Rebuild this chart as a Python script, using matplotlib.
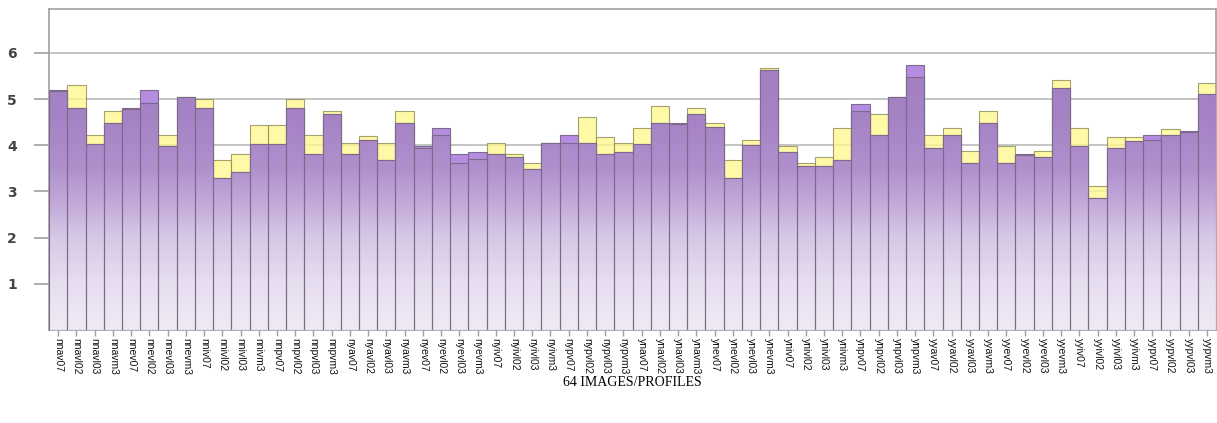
import numpy as np
import matplotlib.pyplot as plt
from matplotlib.colors import LinearSegmentedColormap
from matplotlib.path import Path

# 64 profiles: [nn, ny, yn, yy] x [av, ev, iv, pv] x [07, l02, l03, m3]
labels = [a + b + c for a in ['nn', 'ny', 'yn', 'yy']
          for b in ['av', 'ev', 'iv', 'pv']
          for c in ['07', 'l02', 'l03', 'm3']]

purple = [5.19, 4.80, 4.03, 4.48, 4.81, 5.19, 3.99, 5.05,
          4.80, 3.30, 3.42, 4.03, 4.03, 4.80, 3.80, 4.68,
          3.80, 4.11, 3.69, 4.48, 3.98, 4.37, 3.82, 3.85,
          3.80, 3.74, 3.49, 4.05, 4.23, 4.05, 3.80, 3.85,
          4.03, 4.48, 4.48, 4.68, 4.39, 3.29, 4.00, 5.62,
          3.85, 3.54, 3.54, 3.69, 4.90, 4.23, 5.05, 5.73,
          3.93, 4.23, 3.62, 4.48, 3.62, 3.80, 3.74, 5.24,
          3.99, 2.86, 3.93, 4.10, 4.23, 4.23, 4.30, 5.10]

yellow = [5.17, 5.30, 4.23, 4.74, 4.79, 4.91, 4.23, 5.04,
          4.99, 3.69, 3.80, 4.43, 4.43, 4.99, 4.23, 4.75,
          4.05, 4.19, 4.05, 4.75, 3.94, 4.22, 3.62, 3.70,
          4.05, 3.80, 3.62, 4.04, 4.05, 4.61, 4.18, 4.05,
          4.37, 4.86, 4.47, 4.80, 4.48, 3.69, 4.11, 5.68,
          3.99, 3.62, 3.74, 4.37, 4.74, 4.68, 5.04, 5.48,
          4.23, 4.37, 3.87, 4.75, 3.99, 3.79, 3.87, 5.42,
          4.37, 3.12, 4.17, 4.17, 4.11, 4.36, 4.29, 5.35]

fig = plt.figure(figsize=(12.17, 4.23), dpi=100)
ax = fig.add_axes([0.0403, 0.2199, 0.9589, 0.7589])

x = np.arange(len(labels))
low = np.minimum(purple, yellow)
ymax = 6.95

ax.grid(axis='y', color='#c4c4c4', lw=1.4)
ax.set_axisbelow(True)

ax.bar(x, yellow, width=1, color='#fdf890', alpha=0.8,
       edgecolor='#8f8a55', lw=0.8, zorder=2)
ax.bar(x, purple, width=1, color='#b68ce1', edgecolor='#7f6b8f', lw=0.8, zorder=3)
base = ax.bar(x, low, width=1, facecolor='none', edgecolor='#7c6a8c', lw=0.8, zorder=5)

# vertical gradient fill for the shared part of the bars
cmap = LinearSegmentedColormap.from_list('lav', [
    (0.0, '#efeaf4'), (1 / ymax, '#e7def0'), (2 / ymax, '#d7c8e5'),
    (2.7 / ymax, '#c3abda'), (3.5 / ymax, '#af90cc'), (4.5 / ymax, '#a683c5'),
    (1.0, '#9f7bbf')])
paths = [Path(p.get_patch_transform().transform(p.get_path().vertices), p.get_path().codes)
         for p in base]
clip = Path.make_compound_path(*paths)
grad = np.linspace(0, ymax, 256).reshape(-1, 1)
im = ax.imshow(grad, cmap=cmap, extent=(-0.5, len(labels) - 0.5, 0, ymax),
               origin='lower', aspect='auto', zorder=4, vmin=0, vmax=ymax)
im.set_clip_path(clip, ax.transData)

ax.set_xlim(-0.5, len(labels) - 0.5)
ax.set_ylim(0, ymax)
ax.set_yticks([1, 2, 3, 4, 5, 6])
ax.set_yticklabels(['1', '2', '3', '4', '5', '6'], fontweight='bold')
ax.set_xticks(x)
ax.set_xticklabels(labels, rotation=270, fontsize=7.5, family='Liberation Sans')

for s in ax.spines.values():
    s.set_color('#a0a0a0')
    s.set_linewidth(1.2)

ax.tick_params(axis='y', length=11, width=1.2, color='#a0a0a0',
               labelsize=10, labelcolor='#444444', pad=12)
ax.tick_params(axis='x', length=4, width=1, color='#a0a0a0',
               labelcolor='#111111', pad=2)

fig.text(0.52, 0.095, '64 IMAGES/PROFILES', family='Liberation Serif',
         fontsize=10, ha='center', va='center')

fig.savefig('out.png', dpi=100)
